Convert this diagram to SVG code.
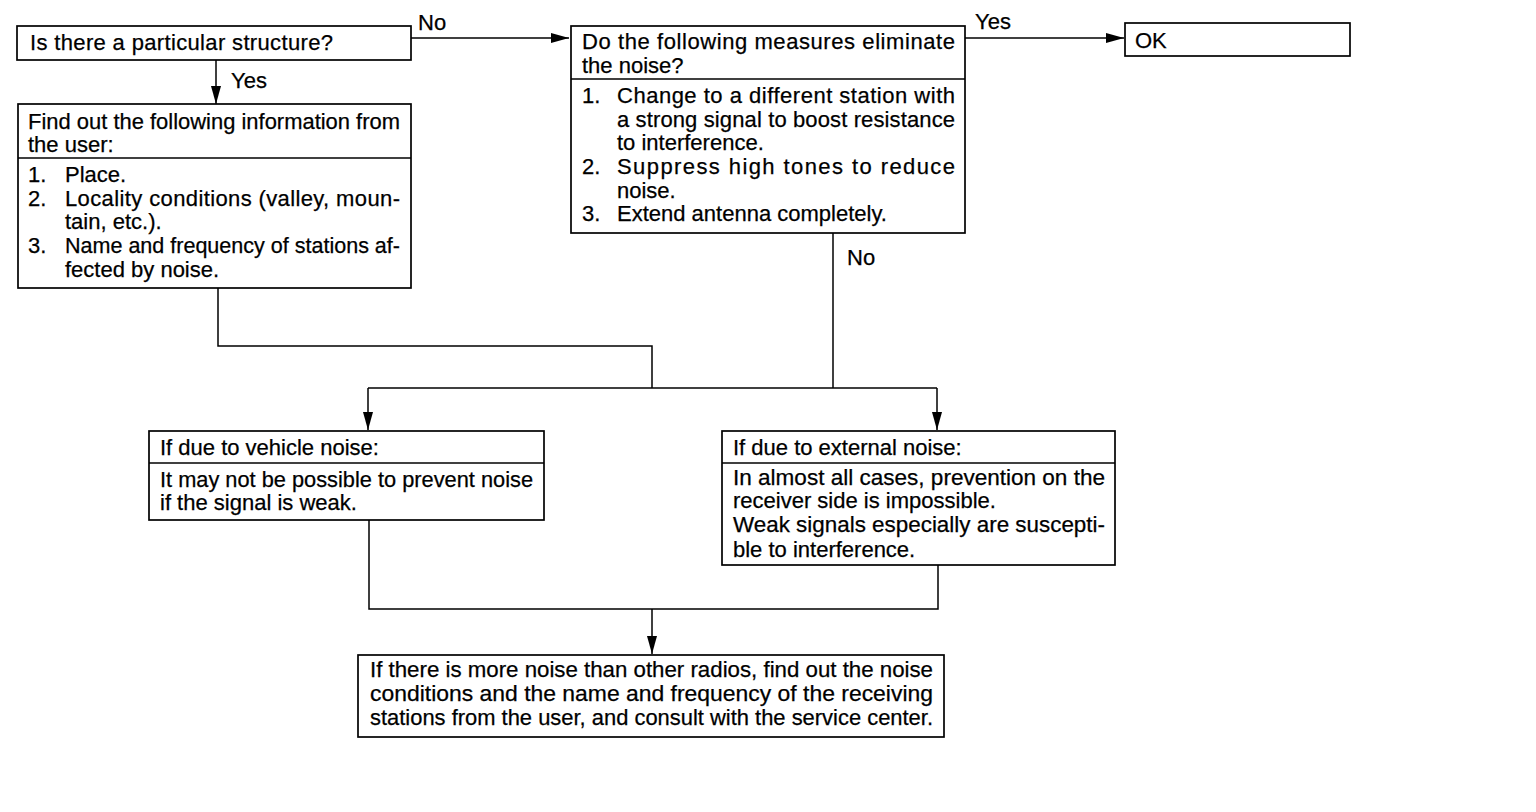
<svg xmlns="http://www.w3.org/2000/svg" width="1536" height="812" viewBox="0 0 1536 812">
<style>
.box{fill:#fff;stroke:#000;stroke-width:1.7}
.div{stroke:#000;stroke-width:1.5}
.ln{fill:none;stroke:#000;stroke-width:1.5}
text{font-family:"Liberation Sans",Arial,sans-serif;font-size:22px;fill:#000;stroke:#000;stroke-width:0.25}
</style>
<defs>
<marker id="ah" markerUnits="userSpaceOnUse" markerWidth="18" markerHeight="10" refX="18" refY="5" orient="auto" viewBox="0 0 18 10">
<path d="M0,0 L18,5 L0,10 Z" fill="#000"/>
</marker>
</defs>
<rect width="1536" height="812" fill="#fff"/>
<g id="connectors">
<line class="ln" x1="216" y1="60" x2="216" y2="104" marker-end="url(#ah)"/>
<line class="ln" x1="411" y1="38" x2="569" y2="38" marker-end="url(#ah)"/>
<line class="ln" x1="965" y1="38" x2="1124" y2="38" marker-end="url(#ah)"/>
<path class="ln" d="M218 288 V346 H652 V388"/>
<path class="ln" d="M833 233 V388"/>
<path class="ln" d="M368 388 H937"/>
<line class="ln" x1="368" y1="388" x2="368" y2="430" marker-end="url(#ah)"/>
<line class="ln" x1="937" y1="388" x2="937" y2="430" marker-end="url(#ah)"/>
<path class="ln" d="M369 520 V609 H938 V565"/>
<line class="ln" x1="652" y1="609" x2="652" y2="654" marker-end="url(#ah)"/>
<text x="418" y="30">No</text>
<text x="231" y="88">Yes</text>
<text x="975" y="29">Yes</text>
<text x="847" y="265">No</text>
</g>
<g id="q1">
<rect class="box" x="17" y="26" width="394" height="34"/>
<text x="30" y="50" textLength="303" lengthAdjust="spacing">Is there a particular structure?</text>
</g>
<g id="info">
<rect class="box" x="18" y="104" width="393" height="184"/>
<line class="div" x1="18" y1="158" x2="411" y2="158"/>
<text x="28" y="129" textLength="372" lengthAdjust="spacingAndGlyphs">Find out the following information from</text>
<text x="28" y="152">the user:</text>
<text x="28" y="182">1.</text><text x="65" y="182">Place.</text>
<text x="28" y="206">2.</text><text x="65" y="206" textLength="335" lengthAdjust="spacing">Locality conditions (valley, moun-</text>
<text x="65" y="229">tain, etc.).</text>
<text x="28" y="253">3.</text><text x="65" y="253" textLength="335" lengthAdjust="spacingAndGlyphs">Name and frequency of stations af-</text>
<text x="65" y="277">fected by noise.</text>
</g>
<g id="q2">
<rect class="box" x="571" y="26" width="394" height="207"/>
<line class="div" x1="571" y1="79" x2="965" y2="79"/>
<text x="582" y="49" textLength="373" lengthAdjust="spacing">Do the following measures eliminate</text>
<text x="582" y="73">the noise?</text>
<text x="582" y="103">1.</text><text x="617" y="103" textLength="338" lengthAdjust="spacing">Change to a different station with</text>
<text x="617" y="127" textLength="338" lengthAdjust="spacing">a strong signal to boost resistance</text>
<text x="617" y="150">to interference.</text>
<text x="582" y="174">2.</text><text x="617" y="174" textLength="338" lengthAdjust="spacing">Suppress high tones to reduce</text>
<text x="617" y="198">noise.</text>
<text x="582" y="221">3.</text><text x="617" y="221">Extend antenna completely.</text>
</g>
<g id="ok">
<rect class="box" x="1125" y="23" width="225" height="33"/>
<text x="1135" y="48">OK</text>
</g>
<g id="vehicle">
<rect class="box" x="149" y="431" width="395" height="89"/>
<line class="div" x1="149" y1="463" x2="544" y2="463"/>
<text x="160" y="455">If due to vehicle noise:</text>
<text x="160" y="487" textLength="373" lengthAdjust="spacingAndGlyphs">It may not be possible to prevent noise</text>
<text x="160" y="510">if the signal is weak.</text>
</g>
<g id="external">
<rect class="box" x="722" y="431" width="393" height="134"/>
<line class="div" x1="722" y1="463" x2="1115" y2="463"/>
<text x="733" y="455">If due to external noise:</text>
<text x="733" y="485" textLength="372" lengthAdjust="spacingAndGlyphs">In almost all cases, prevention on the</text>
<text x="733" y="508">receiver side is impossible.</text>
<text x="733" y="532" textLength="372" lengthAdjust="spacingAndGlyphs">Weak signals especially are suscepti-</text>
<text x="733" y="557">ble to interference.</text>
</g>
<g id="consult">
<rect class="box" x="358" y="655" width="586" height="82"/>
<text x="370" y="677" textLength="563" lengthAdjust="spacingAndGlyphs">If there is more noise than other radios, find out the noise</text>
<text x="370" y="701" textLength="563" lengthAdjust="spacingAndGlyphs">conditions and the name and frequency of the receiving</text>
<text x="370" y="725" textLength="563" lengthAdjust="spacingAndGlyphs">stations from the user, and consult with the service center.</text>
</g>
</svg>
